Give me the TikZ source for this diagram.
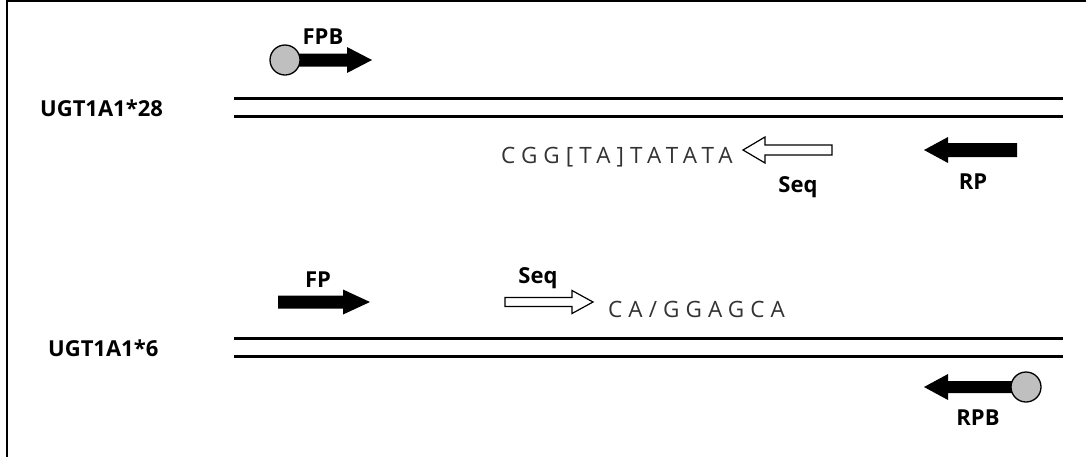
\documentclass[tikz,border=0pt]{standalone}
\usepackage{fontspec}
\setmainfont{Open Sans}
\newfontfamily\seqfont[LetterSpace=27]{Open Sans}
\newcommand{\primerarrow}[7]{% style, tail, base, tip, cy, shaft half, head half
  \path[#1] (#2,#5-#6) -- (#3,#5-#6) -- (#3,#5-#7) -- (#4,#5) -- (#3,#5+#7) -- (#3,#5+#6) -- (#2,#5+#6) -- cycle;}
\begin{document}
\begin{tikzpicture}[x=1pt,y=-1pt,
  lbl/.style={font=\bfseries\fontsize{22}{24}\selectfont, inner sep=0pt},
  seqtxt/.style={font=\seqfont\fontsize{22.5}{26}\selectfont, text=black!80, inner sep=0pt},
  strand/.style={line width=3pt},
  solidarrow/.style={fill=black},
  hollowarrow/.style={draw=black, fill=white, line width=1.2pt},
  bead/.style={circle, draw=black, fill=black!25, line width=1.3pt, minimum size=30pt, inner sep=0pt}]
\useasboundingbox (0,0) rectangle (1086,456);
\fill[white] (0,0) rectangle (1086,456);
% frame (left and top edges visible)
\draw[line width=1.5pt] (7,460) -- (7,1) -- (1090,1);
% strands
\coordinate (a1) at (234,98);  \coordinate (a2) at (1063,98);
\coordinate (b1) at (234,116); \coordinate (b2) at (1063,116);
\coordinate (c1) at (234,338); \coordinate (c2) at (1063,338);
\coordinate (d1) at (234,356); \coordinate (d2) at (1063,356);
\draw[strand] (a1) -- (a2);
\draw[strand] (b1) -- (b2);
\draw[strand] (c1) -- (c2);
\draw[strand] (d1) -- (d2);
% labels
\node[lbl, anchor=west] (u28) at (40,108) {UGT1A1*28};
\node[lbl, anchor=west] (u6) at (48,348) {UGT1A1*6};
% FPB
\primerarrow{solidarrow}{290}{347}{372}{60}{6.5}{13}
\node[bead] (fpbbead) at (285,60) {};
\node[lbl] (fpb) at (323,37) {FPB};
% RP
\primerarrow{solidarrow}{1017}{948}{924}{150}{7}{13}
\node[lbl] (rp) at (973,182) {RP};
% Seq top
\primerarrow{hollowarrow}{832}{765}{743}{150}{5}{13}
\node[lbl] (seq1) at (798,187) {Seq};
\node[seqtxt, anchor=west] (s1) at (501,157) {CGG[TA]TATATA};
% FP
\primerarrow{solidarrow}{278}{343}{370}{302}{6.5}{12.5}
\node[lbl] (fp) at (318,280) {FP};
% Seq bottom
\primerarrow{hollowarrow}{505}{572}{593}{302}{4.5}{11.5}
\node[lbl] (seq2) at (538,278) {Seq};
\node[seqtxt, anchor=west] (s2) at (608,309) {CA/GGAGCA};
% RPB
\primerarrow{solidarrow}{1030}{948}{924}{387}{6}{13}
\node[bead] (rpbbead) at (1026,387) {};
\node[lbl] (rpb) at (978,418) {RPB};
\end{tikzpicture}
\end{document}
